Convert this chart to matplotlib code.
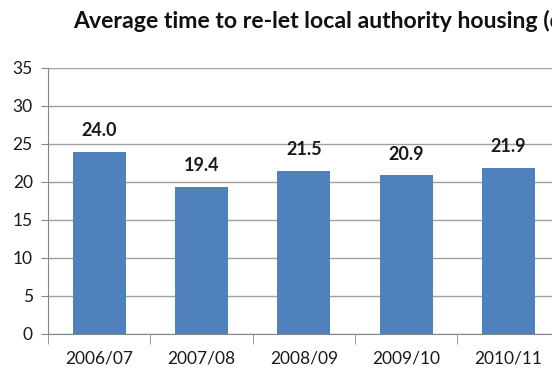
import matplotlib
matplotlib.use("Agg")
import matplotlib.pyplot as plt
import numpy as np

categories = ["2006/07", "2007/08", "2008/09", "2009/10", "2010/11"]
values = [24.0, 19.4, 21.5, 20.9, 21.9]
yticks = [0, 5, 10, 15, 20, 25, 30, 35]
title = "Average time to re-let local authority housing (days)"

plt.rcParams['font.family'] = ['Lato', 'DejaVu Sans']

fig = plt.figure(figsize=(5.52, 3.74), dpi=100)
ax = fig.add_axes([48/552, 1-334/374, (559.7-48)/552, (334-68)/374])

x = np.arange(len(categories))
ax.bar(x, values, width=0.52, color="#4F81BD", zorder=3)
for xi, v in zip(x, values):
    ax.annotate(f"{v:.1f}", (xi, v), xytext=(0, 9), textcoords="offset points",
                ha="center", va="bottom", fontsize=13, fontweight="bold", color="#1a1a1a")

ax.set_xlim(-0.5, len(categories)-0.5)
ax.set_ylim(0, 35)
ax.set_yticks(yticks)
ax.set_yticklabels([str(t) for t in yticks], fontsize=12.5, color="#1a1a1a")
ax.set_xticks(x)
ax.set_xticklabels(categories, fontsize=12.5, color="#1a1a1a")
ax.tick_params(axis="x", length=0, pad=12)
ax.set_xticks(np.arange(-0.5, len(categories), 1.0), minor=True)
ax.tick_params(axis="x", which="minor", length=7, color="#868686", direction="out")
ax.tick_params(axis="y", length=5, color="#868686", pad=6)
ax.grid(axis="y", color="#A0A0A0", linewidth=1, zorder=0)
for s in ["top", "right"]:
    ax.spines[s].set_visible(False)
for s in ["left", "bottom"]:
    ax.spines[s].set_color("#868686")
    ax.spines[s].set_zorder(4)

fig.text(73/552, 1-21/374, title, ha="left", va="center", fontsize=16.6, fontweight="bold", color="#111111")

fig.savefig("out.png", dpi=100)
